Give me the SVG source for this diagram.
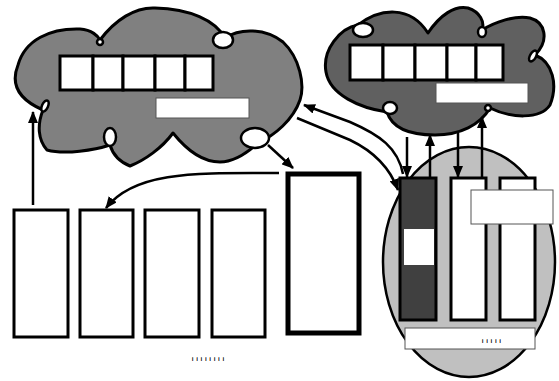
<svg xmlns="http://www.w3.org/2000/svg" width="559" height="381" viewBox="0 0 559 381">
<defs>
<style>
.cloud{stroke:#000;stroke-width:3;stroke-linejoin:round}
.loop{fill:#fff;stroke:#000;stroke-width:2.5}
.cell{fill:#fff;stroke:#000;stroke-width:3}
.label{fill:#fff;stroke:#555;stroke-width:1}
.box{fill:#fff;stroke:#000;stroke-width:3}
.conn{fill:none;stroke:#000;stroke-width:2.5}
.ticks{font-family:"DejaVu Sans",sans-serif;font-size:3.5px;font-weight:bold;letter-spacing:3.1px;fill:#000;stroke:#000;stroke-width:0.3}
</style>
<marker id="ah" viewBox="0 0 12 10" refX="11" refY="5" markerWidth="12" markerHeight="10" markerUnits="userSpaceOnUse" orient="auto">
<path d="M0,0 L12,5 L0,10 Z" fill="#000"/>
</marker>
</defs>
<rect width="559" height="381" fill="#fff"/>

<g id="cloud-left">
<path class="cloud" fill="#808080" d="M43,110 C20,100 10,85 18,65 C25,40 50,28 80,29 C92,30 98,36 100,40 C115,20 135,7 155,8 C190,9 215,20 225,38 C240,28 265,28 283,42 C300,58 305,85 300,100 C293,120 275,135 258,143 C245,155 232,162 220,162 C200,162 185,148 173,133 C162,148 145,160 130,166 C120,162 113,155 110,145 C95,150 65,155 47,150 C38,140 37,125 43,110 Z"/>
<ellipse class="loop" cx="100" cy="42" rx="3" ry="3" fill="#808080"/>
<ellipse class="loop" cx="223" cy="40" rx="10" ry="8"/>
<ellipse class="loop" cx="45" cy="106" rx="3" ry="6" transform="rotate(25 45 106)" fill="#808080"/>
<ellipse class="loop" cx="110" cy="137" rx="6" ry="9" fill="#808080"/>
<ellipse class="loop" cx="255" cy="138" rx="14" ry="10"/>
<rect class="cell" x="60" y="56" width="33" height="34"/>
<rect class="cell" x="93" y="56" width="30" height="34"/>
<rect class="cell" x="123" y="56" width="32" height="34"/>
<rect class="cell" x="155" y="56" width="30" height="34"/>
<rect class="cell" x="185" y="56" width="28" height="34"/>
<rect class="label" x="156" y="98" width="93" height="20"/>
</g>

<g id="cloud-right">
<path class="cloud" fill="#606060" d="M387,112 C360,108 330,95 326,72 C322,50 340,28 358,25 C380,8 410,5 428,33 C440,15 455,5 468,8 C480,12 485,22 482,30 C495,22 515,15 530,18 C545,22 550,40 535,55 C553,62 558,85 550,105 C540,120 510,118 490,108 C480,125 460,135 435,135 C410,135 392,128 387,112 Z"/>
<ellipse class="loop" cx="363" cy="30" rx="10" ry="7"/>
<ellipse class="loop" cx="482" cy="32" rx="4" ry="5" fill="#606060"/>
<ellipse class="loop" cx="533" cy="56" rx="3" ry="6" transform="rotate(30 533 56)" fill="#606060"/>
<ellipse class="loop" cx="488" cy="108" rx="3" ry="3" fill="#606060"/>
<ellipse class="loop" cx="390" cy="108" rx="7" ry="6" fill="#606060"/>
<rect class="cell" x="350" y="45" width="33" height="35"/>
<rect class="cell" x="383" y="45" width="32" height="35"/>
<rect class="cell" x="415" y="45" width="32" height="35"/>
<rect class="cell" x="447" y="45" width="29" height="35"/>
<rect class="cell" x="476" y="45" width="27" height="35"/>
<rect class="label" x="436" y="83" width="92" height="20"/>
</g>

<g id="cluster">
<ellipse cx="469" cy="262" rx="86" ry="115" fill="#c0c0c0" stroke="#000" stroke-width="2.5"/>
<rect x="400" y="178" width="36" height="142" fill="#404040" stroke="#000" stroke-width="3"/>
<rect x="404" y="229" width="30" height="36" fill="#fff"/>
<rect class="box" x="451" y="178" width="35" height="142"/>
<rect class="box" x="500" y="178" width="35" height="142"/>
<rect class="label" x="471" y="190" width="82" height="34"/>
<rect class="label" x="405" y="328" width="130" height="21"/>
<text class="ticks" x="482" y="342">|||||</text>
</g>

<g id="row">
<rect class="box" x="14" y="210" width="54" height="127"/>
<rect class="box" x="80" y="210" width="53" height="127"/>
<rect class="box" x="145" y="210" width="54" height="127"/>
<rect class="box" x="212" y="210" width="53" height="127"/>
<rect x="288" y="174" width="71" height="159" fill="#fff" stroke="#000" stroke-width="5"/>
<text class="ticks" x="192" y="360">||||||||</text>
</g>

<g id="connectors">
<path class="conn" marker-end="url(#ah)" d="M33,205 L33,112"/>
<path class="conn" marker-end="url(#ah)" d="M279,173 C200,173 135,170 106,208"/>
<path class="conn" marker-end="url(#ah)" d="M268,145 L293,168"/>
<path class="conn" marker-end="url(#ah)" d="M403,174 C398,148 380,135 350,122 L304,105"/>
<path class="conn" marker-end="url(#ah)" d="M297,118 L350,140 C375,152 390,168 398,190"/>
<path class="conn" marker-end="url(#ah)" d="M407,137 L407,177"/>
<path class="conn" marker-end="url(#ah)" d="M430,178 L430,135"/>
<path class="conn" marker-end="url(#ah)" d="M458,133 L458,177"/>
<path class="conn" marker-end="url(#ah)" d="M482,178 L482,117"/>
</g>
</svg>
